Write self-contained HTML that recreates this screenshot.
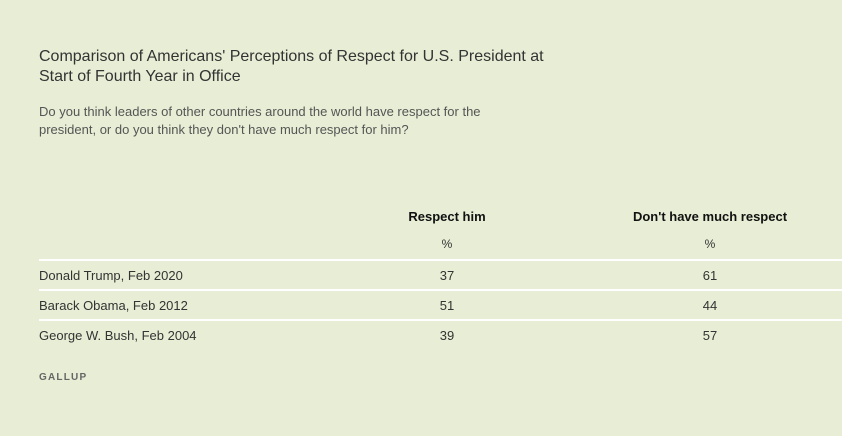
<!DOCTYPE html>
<html><head><meta charset="utf-8"><style>
body{margin:0;width:842px;height:436px;background:#e7eed5;font-family:"Liberation Sans",sans-serif;color:#333;position:relative;overflow:hidden}
.a{position:absolute;white-space:nowrap}
.t{left:39px;top:47px;font-size:16px;line-height:20px;color:#333}
.s{left:39px;top:103px;font-size:13px;line-height:18px;color:#555}
.h{font-size:13px;font-weight:bold;color:#111;top:209px;transform:translateX(-50%)}
.p{font-size:12px;top:237px;color:#333;transform:translateX(-50%)}
.line{position:absolute;left:39px;right:0;height:2px;background:#fff}
.r{left:39px;font-size:13px;color:#333}
.v{font-size:13px;color:#333;transform:translateX(-50%)}
.g{left:39px;top:372px;font-size:10px;letter-spacing:1.2px;font-weight:bold;color:#666}
</style></head><body>
<div class="a t">Comparison of Americans' Perceptions of Respect for U.S. President at<br>Start of Fourth Year in Office</div>
<div class="a s">Do you think leaders of other countries around the world have respect for the<br>president, or do you think they don't have much respect for him?</div>
<div class="a h" style="left:447px">Respect him</div>
<div class="a h" style="left:710px">Don't have much respect</div>
<div class="a p" style="left:447px">%</div>
<div class="a p" style="left:710px">%</div>
<div class="line" style="top:259px"></div>
<div class="line" style="top:289px"></div>
<div class="line" style="top:319px"></div>
<div class="a r" style="top:268px">Donald Trump, Feb 2020</div>
<div class="a v" style="top:268px;left:447px">37</div>
<div class="a v" style="top:268px;left:710px">61</div>
<div class="a r" style="top:298px">Barack Obama, Feb 2012</div>
<div class="a v" style="top:298px;left:447px">51</div>
<div class="a v" style="top:298px;left:710px">44</div>
<div class="a r" style="top:328px">George W. Bush, Feb 2004</div>
<div class="a v" style="top:328px;left:447px">39</div>
<div class="a v" style="top:328px;left:710px">57</div>
<div class="a g">GALLUP</div>
</body></html>
